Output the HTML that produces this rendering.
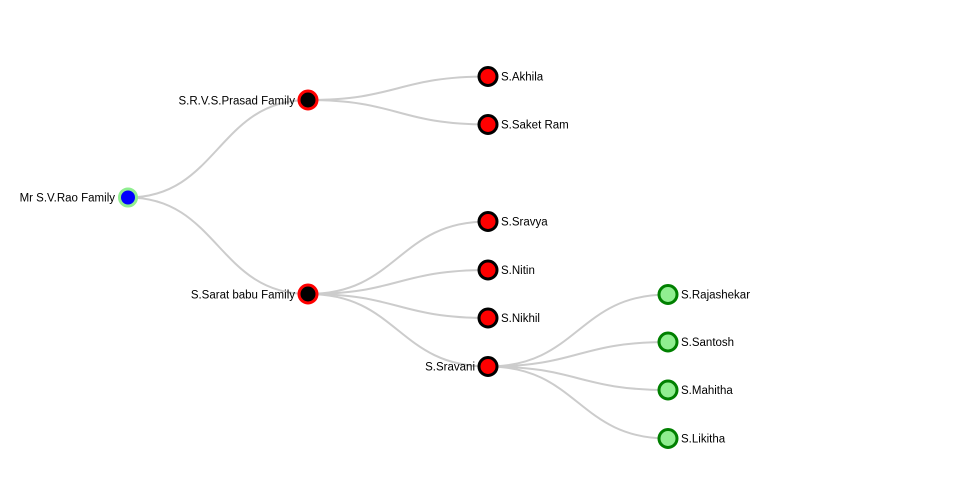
<!DOCTYPE html>
<html>
<head>
<meta charset="utf-8">
<style>
  html, body { margin: 0; padding: 0; background: #ffffff; }
  svg { display: block; }
  .link { fill: none; stroke: #cccccc; stroke-width: 2; }
  text { font-family: "Liberation Sans", "DejaVu Sans", sans-serif; font-size: 11.5px; fill: #000; }
</style>
</head>
<body>
<svg width="960" height="500" viewBox="0 0 960 500" xmlns="http://www.w3.org/2000/svg">
  <!-- links -->
  <path class="link" d="M128,197.5 C218,197.5 218,100 308,100"/>
  <path class="link" d="M128,197.5 C218,197.5 218,294 308,294"/>
  <path class="link" d="M308,100 C398,100 398,76.5 488,76.5"/>
  <path class="link" d="M308,100 C398,100 398,124.5 488,124.5"/>
  <path class="link" d="M308,294 C398,294 398,221.5 488,221.5"/>
  <path class="link" d="M308,294 C398,294 398,270 488,270"/>
  <path class="link" d="M308,294 C398,294 398,318 488,318"/>
  <path class="link" d="M308,294 C398,294 398,366.5 488,366.5"/>
  <path class="link" d="M488,366.5 C578,366.5 578,294.5 668,294.5"/>
  <path class="link" d="M488,366.5 C578,366.5 578,342 668,342"/>
  <path class="link" d="M488,366.5 C578,366.5 578,390 668,390"/>
  <path class="link" d="M488,366.5 C578,366.5 578,438.5 668,438.5"/>

  <!-- root -->
  <circle cx="128" cy="197.5" r="8.5" fill="#0000ff" stroke="#90ee90" stroke-width="3"/>
  <text x="115" y="201.5" text-anchor="end">Mr S.V.Rao Family</text>

  <!-- level 1 -->
  <circle cx="308" cy="100" r="9" fill="#000000" stroke="#ff0000" stroke-width="3"/>
  <text x="295" y="104.5" text-anchor="end">S.R.V.S.Prasad Family</text>
  <circle cx="308" cy="294" r="9" fill="#000000" stroke="#ff0000" stroke-width="3"/>
  <text x="295" y="298.5" text-anchor="end">S.Sarat babu Family</text>

  <!-- level 2 -->
  <circle cx="488" cy="76.5" r="9" fill="#ff0000" stroke="#000000" stroke-width="3"/>
  <text x="501" y="80.5">S.Akhila</text>
  <circle cx="488" cy="124.5" r="9" fill="#ff0000" stroke="#000000" stroke-width="3"/>
  <text x="501" y="128.5">S.Saket Ram</text>
  <circle cx="488" cy="221.5" r="9" fill="#ff0000" stroke="#000000" stroke-width="3"/>
  <text x="501" y="225.5">S.Sravya</text>
  <circle cx="488" cy="270" r="9" fill="#ff0000" stroke="#000000" stroke-width="3"/>
  <text x="501" y="274">S.Nitin</text>
  <circle cx="488" cy="318" r="9" fill="#ff0000" stroke="#000000" stroke-width="3"/>
  <text x="501" y="322">S.Nikhil</text>
  <circle cx="488" cy="366.5" r="9" fill="#ff0000" stroke="#000000" stroke-width="3"/>
  <text x="475" y="370.5" text-anchor="end">S.Sravani</text>

  <!-- level 3 -->
  <circle cx="668" cy="294.5" r="9" fill="#90ee90" stroke="#008000" stroke-width="3"/>
  <text x="681" y="298.5">S.Rajashekar</text>
  <circle cx="668" cy="342" r="9" fill="#90ee90" stroke="#008000" stroke-width="3"/>
  <text x="681" y="346">S.Santosh</text>
  <circle cx="668" cy="390" r="9" fill="#90ee90" stroke="#008000" stroke-width="3"/>
  <text x="681" y="394">S.Mahitha</text>
  <circle cx="668" cy="438.5" r="9" fill="#90ee90" stroke="#008000" stroke-width="3"/>
  <text x="681" y="442.5">S.Likitha</text>
</svg>
</body>
</html>
